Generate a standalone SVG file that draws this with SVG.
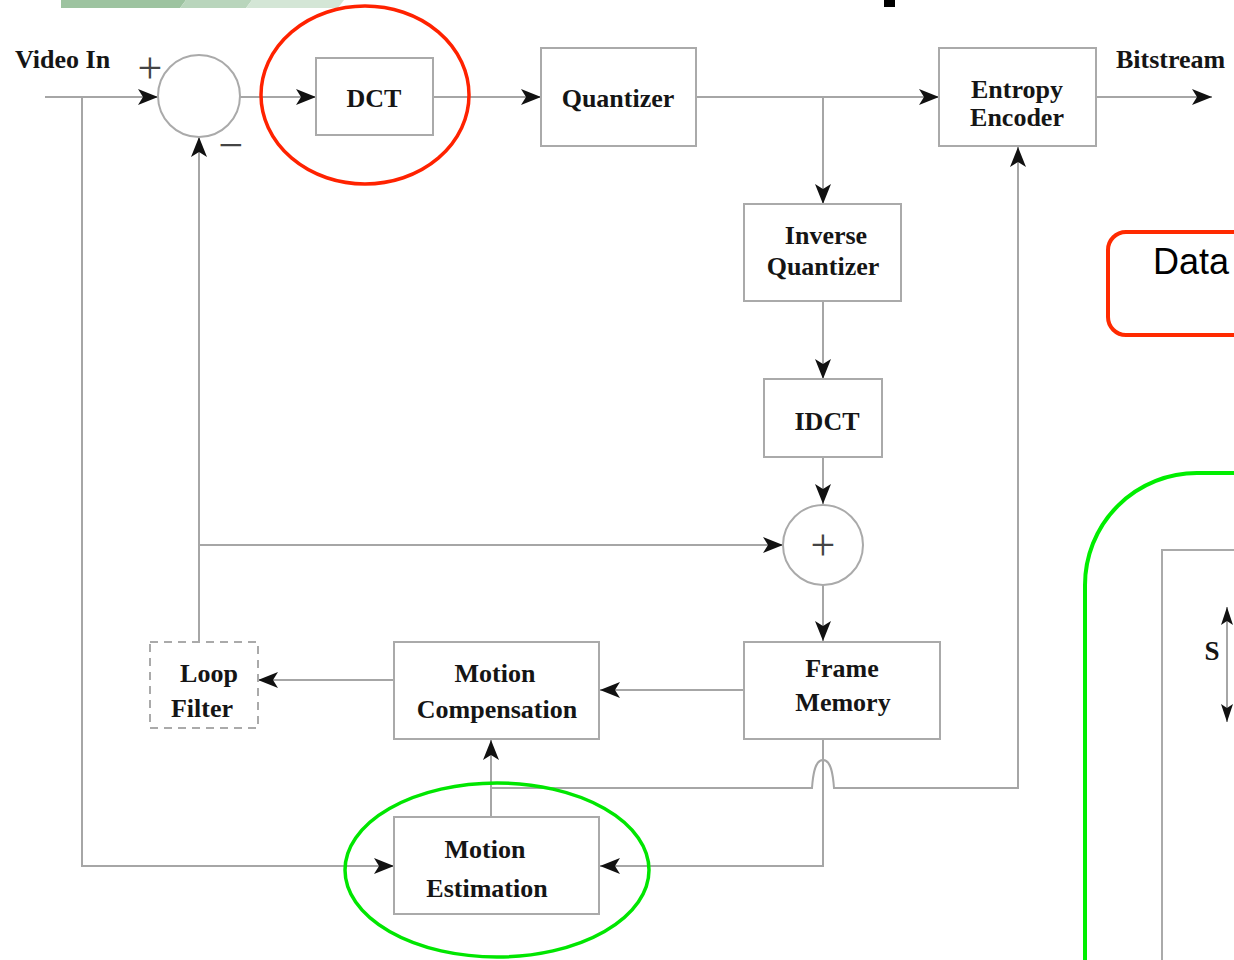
<svg xmlns="http://www.w3.org/2000/svg" width="1234" height="960" viewBox="0 0 1234 960">
<style>
.box{fill:#fff;stroke:#aaa;stroke-width:2}
.dash{fill:#fff;stroke:#aaa;stroke-width:2;stroke-dasharray:8 6}
.ln{fill:none;stroke:#a6a6a6;stroke-width:2}
.lbl{font-family:"Liberation Serif","Times New Roman",serif;font-weight:bold;font-size:26px;fill:#151515;text-anchor:middle}
.sym{font-family:"Liberation Serif","Times New Roman",serif;font-size:44px;fill:#444;text-anchor:middle}
</style>
<defs>
<marker id="ah" markerUnits="userSpaceOnUse" markerWidth="20" markerHeight="16" refX="20" refY="8" orient="auto">
<path d="M0,0 L20,8 L0,16 L5,8 z" fill="#111"/>
</marker>
<marker id="ahs" markerUnits="userSpaceOnUse" markerWidth="18" markerHeight="12" refX="18" refY="6" orient="auto-start-reverse">
<path d="M0,0 L18,6 L0,12 L4,6 z" fill="#111"/>
</marker>
</defs>
<rect width="1234" height="960" fill="#fff"/>
<g id="banner">
<polygon points="61,0 186,0 180,8 61,8" fill="#9dc3a0"/>
<polygon points="186,0 252,0 246,8 180,8" fill="#b9d5bc"/>
<polygon points="252,0 344,0 338,8 246,8" fill="#d4e6d6"/>
<rect x="884" y="0" width="11" height="7" fill="#000"/>
</g>
<g id="connectors">
<path class="ln" d="M45 97 L158 97" marker-end="url(#ah)"/>
<path class="ln" d="M82 97 L82 866 L394 866" marker-end="url(#ah)"/>
<path class="ln" d="M240 97 L316 97" marker-end="url(#ah)"/>
<path class="ln" d="M433 97 L541 97" marker-end="url(#ah)"/>
<path class="ln" d="M696 97 L939 97" marker-end="url(#ah)"/>
<path class="ln" d="M823 97 L823 204" marker-end="url(#ah)"/>
<path class="ln" d="M1096 97 L1212 97" marker-end="url(#ah)"/>
<path class="ln" d="M823 301 L823 379" marker-end="url(#ah)"/>
<path class="ln" d="M823 457 L823 504" marker-end="url(#ah)"/>
<path class="ln" d="M823 585 L823 641" marker-end="url(#ah)"/>
<path class="ln" d="M744 690 L600 690" marker-end="url(#ah)"/>
<path class="ln" d="M394 680 L258 680" marker-end="url(#ah)"/>
<path class="ln" d="M199 642 L199 137" marker-end="url(#ah)"/>
<path class="ln" d="M199 545 L783 545" marker-end="url(#ah)"/>
<path class="ln" d="M491 817 L491 740" marker-end="url(#ah)"/>
<path class="ln" d="M491 788 L812 788 C813 774 815 760 823 760 C831 760 833 774 834 788 L1018 788 L1018 147" marker-end="url(#ah)"/>
<path class="ln" d="M823 740 L823 866 L600 866" marker-end="url(#ah)"/>
</g>
<g id="subtractor">
<circle class="box" cx="199" cy="96" r="41"/>
<text class="sym" x="150" y="83">+</text>
<text class="sym" x="231" y="160">−</text>
</g>
<g id="dct"><rect class="box" x="316" y="58" width="117" height="77"/><text class="lbl" x="374" y="107">DCT</text></g>
<g id="quantizer"><rect class="box" x="541" y="48" width="155" height="98"/><text class="lbl" x="618" y="107">Quantizer</text></g>
<g id="entropy"><rect class="box" x="939" y="48" width="157" height="98"/><text class="lbl" x="1017" y="98">Entropy</text><text class="lbl" x="1017" y="126">Encoder</text></g>
<g id="video-in"><text class="lbl" x="15" y="68" style="text-anchor:start">Video In</text></g>
<g id="bitstream"><text class="lbl" x="1116" y="68" style="text-anchor:start">Bitstream</text></g>
<g id="inverse-quantizer"><rect class="box" x="744" y="204" width="157" height="97"/><text class="lbl" x="826" y="244">Inverse</text><text class="lbl" x="823" y="275">Quantizer</text></g>
<g id="idct"><rect class="box" x="764" y="379" width="118" height="78"/><text class="lbl" x="827" y="430">IDCT</text></g>
<g id="adder"><circle class="box" cx="823" cy="545" r="40"/><text class="sym" x="823" y="560">+</text></g>
<g id="frame-memory"><rect class="box" x="744" y="642" width="196" height="97"/><text class="lbl" x="842" y="677">Frame</text><text class="lbl" x="843" y="711">Memory</text></g>
<g id="motion-compensation"><rect class="box" x="394" y="642" width="205" height="97"/><text class="lbl" x="495" y="682">Motion</text><text class="lbl" x="497" y="718">Compensation</text></g>
<g id="loop-filter"><rect class="dash" x="150" y="642" width="108" height="86"/><text class="lbl" x="209" y="682">Loop</text><text class="lbl" x="202" y="717">Filter</text></g>
<g id="motion-estimation"><rect class="box" x="394" y="817" width="205" height="97"/><text class="lbl" x="485" y="858">Motion</text><text class="lbl" x="487" y="897">Estimation</text></g>
<g id="highlights">
<ellipse cx="365" cy="95" rx="104" ry="89" fill="none" stroke="#ff2200" stroke-width="3.5"/>
<ellipse cx="497" cy="870" rx="152" ry="87" fill="none" stroke="#00e600" stroke-width="3.5"/>
</g>
<g id="data-box">
<rect x="1108" y="232" width="300" height="103" rx="18" fill="none" stroke="#ff2a00" stroke-width="4"/>
<text x="1153" y="274" style="font-family:'Liberation Sans',Arial,sans-serif;font-size:36px;fill:#000">Data</text>
</g>
<g id="green-panel">
<rect x="1085" y="473" width="400" height="700" rx="112" fill="none" stroke="#00ee00" stroke-width="4"/>
<rect x="1162" y="550" width="300" height="600" fill="none" stroke="#aaa" stroke-width="2"/>
<path class="ln" d="M1227 607 L1227 722" marker-start="url(#ahs)" marker-end="url(#ahs)"/>
<text class="lbl" x="1212" y="660" style="font-size:27px">S</text>
</g>
</svg>
